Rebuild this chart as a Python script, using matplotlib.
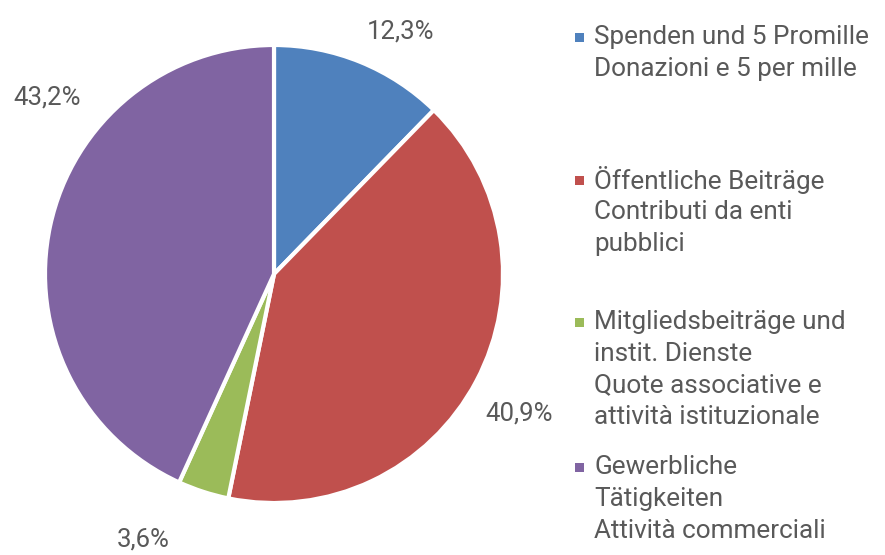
import matplotlib
matplotlib.use("Agg")
import matplotlib.pyplot as plt
from matplotlib.patches import Rectangle

categories = [
    "Spenden und 5 Promille\nDonazioni e 5 per mille",
    "Öffentliche Beiträge\nContributi da enti\npubblici",
    "Mitgliedsbeiträge und\ninstit. Dienste\nQuote associative e\nattività istituzionale",
    "Gewerbliche\nTätigkeiten\nAttività commerciali",
]
values = [12.3, 40.9, 3.6, 43.2]
pct_labels = ["12,3%", "40,9%", "3,6%", "43,2%"]
colors = ["#4F81BD", "#C0504D", "#9BBB59", "#8064A2"]

plt.rcParams['font.family'] = ['Roboto', 'DejaVu Sans']
TXT = "#595959"

W, H = 885, 555
fig = plt.figure(figsize=(W / 100, H / 100), dpi=100)

cx, cy, R = 274, 274, 229
ax = fig.add_axes([(cx - R) / W, (H - cy - R) / H, 2 * R / W, 2 * R / H])
ax.pie(values, colors=colors, startangle=90, counterclock=False, radius=1.0,
       wedgeprops=dict(edgecolor="white", linewidth=3))
ax.set_xlim(-1, 1)
ax.set_ylim(-1, 1)
ax.set_aspect("equal")
ax.axis("off")

# data label positions (pixels in the figure)
label_pos = [(401, 32), (519, 413), (143, 540), (47, 97)]
for lab, (px, py) in zip(pct_labels, label_pos):
    fig.text(px / W, 1 - py / H, lab, ha="center", va="center", fontsize=18.5, color=TXT)

# legend
entry_top = [37, 180, 322, 467]
line_h = 31.8
for cat, col, y0 in zip(categories, colors, entry_top):
    fig.patches.append(Rectangle(((575) / W, 1 - (y0 + 5) / H), 9 / W, 9 / H,
                                 transform=fig.transFigure, facecolor=col, edgecolor="none"))
    for i, line in enumerate(cat.split("\n")):
        fig.text(594 / W, 1 - (y0 + i * line_h) / H, line, ha="left", va="center",
                 fontsize=18.8, color=TXT)

fig.savefig("out.png", dpi=100, facecolor="white")
